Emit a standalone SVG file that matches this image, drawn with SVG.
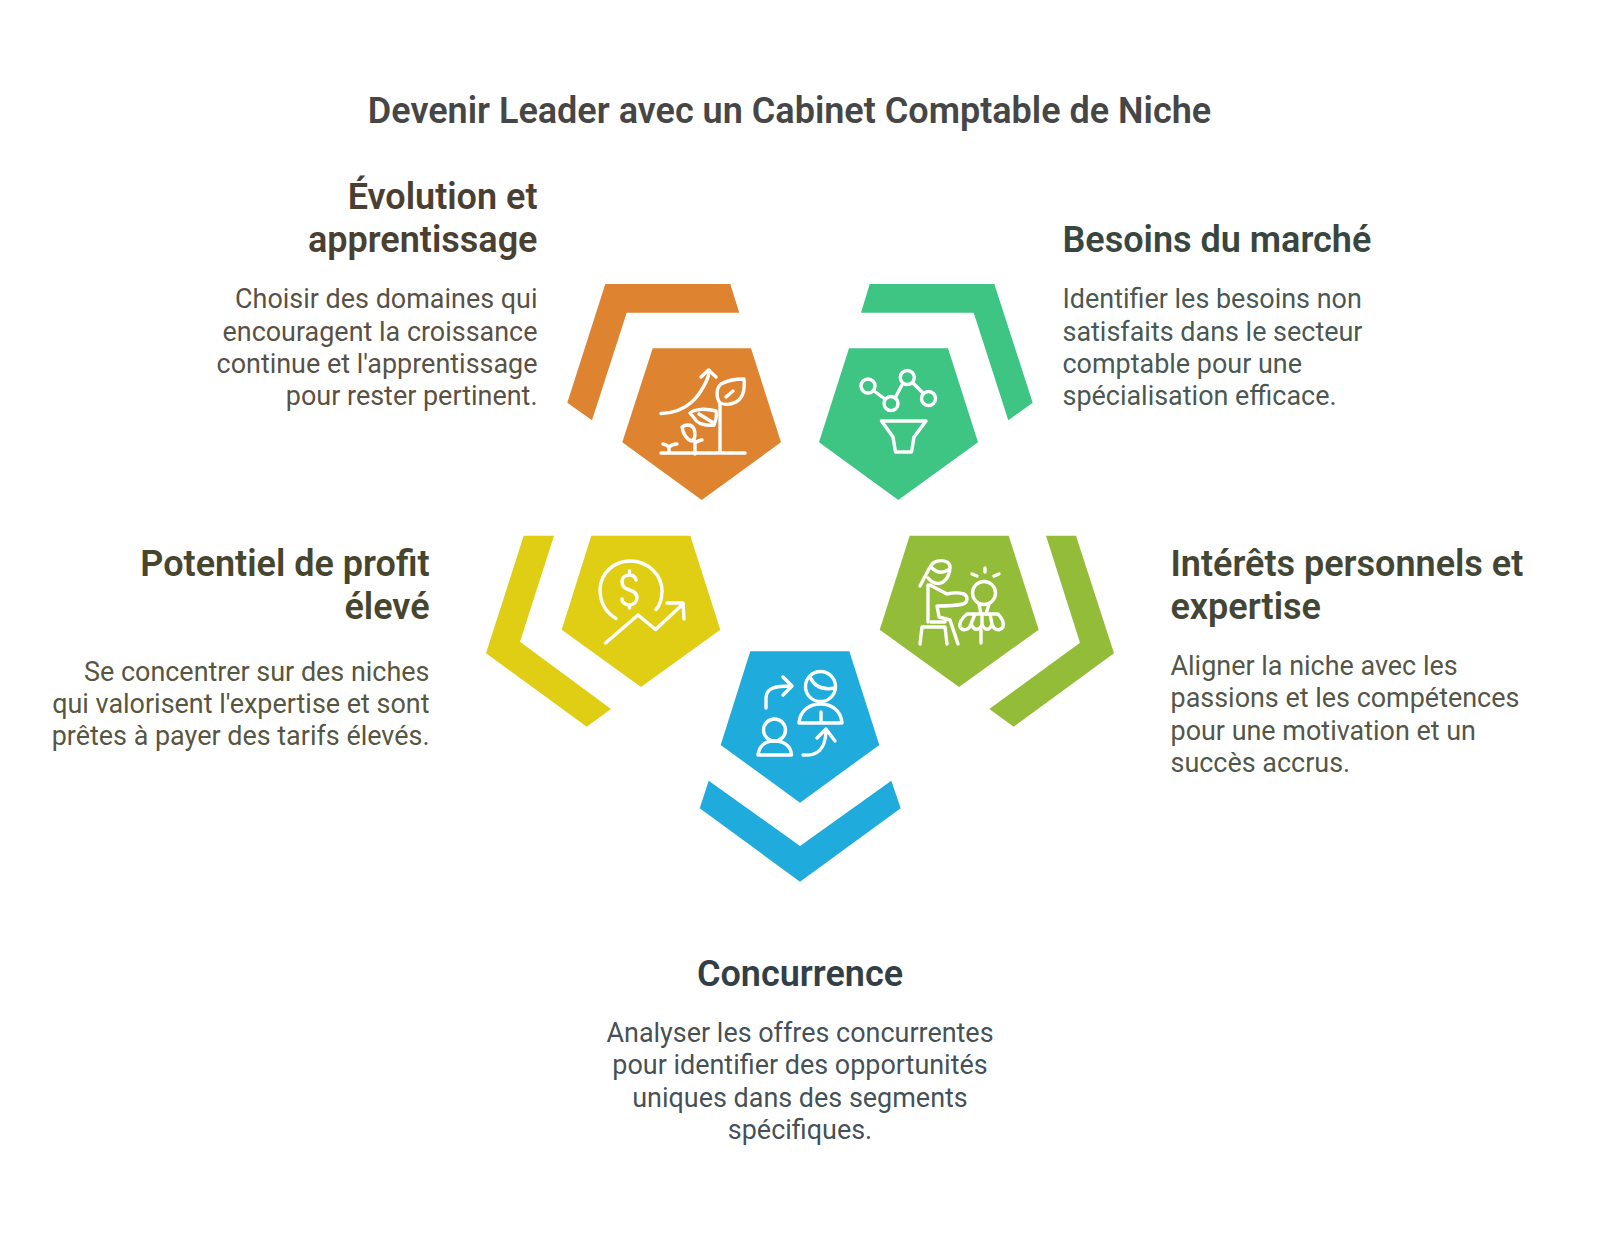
<svg xmlns="http://www.w3.org/2000/svg" width="1600" height="1233" viewBox="0 0 1600 1233">
<style>
text{font-family:Roboto,"Liberation Sans",sans-serif}
.t{font-size:36px;font-weight:600;fill:#464646}
.h{font-size:36px;font-weight:600}
.b{font-size:26.95px;font-weight:400;fill-opacity:.93}
.e{text-anchor:end}.m{text-anchor:middle}
.i{fill:none;stroke:#fff;stroke-width:3.4;stroke-linecap:round;stroke-linejoin:round}
.o{fill:#4a4032}.g{fill:#37473f}.y{fill:#46452e}.l{fill:#434634}.c{fill:#333f46}
</style>
<rect width="1600" height="1233" fill="#fff"/>
<text class="t m" x="789.500" y="122.500">Devenir Leader avec un Cabinet Comptable de Niche</text>
<g id="node-evolution">
<polygon fill="#de8431" points="605.300,284 730.300,284 739.300,312.700 626.700,312.700 592,420.300 567.300,402.700"/>
<polygon fill="#de8431" points="652.700,348.300 751,348.300 781,442.300 701.700,500 622.300,442.300"/>
<g class="i"><path d="M661 413.500C689 413 700 394 706 382C708 378 709 374 709.500 370.500"/><path d="M701 377L708.500 370L716 377"/><path d="M661 453H745"/><path d="M720 452V404"/><path d="M720 403C716 398 716 388 721 384C728 380 739 379 744 379C745 389 743 398 736 402C730 405 725 405 720 403ZM726 397L733 391"/><path d="M690 413C695 409 705 408 716 411C717 415 716 420 714 425C706 426 698 424 695 419ZM699 414L712 422"/><path d="M682 427C686 424 692 424 694 429C696 434 695 439 692 441C687 440 683 434 682 427ZM695 454V441M695 443C698 441 700 440 702 440"/><path d="M669 452V447M669 447C667 445 666 444 663 444M669 447C671 445 674 444 677 444"/></g>
<text class="h e o" x="537.500" y="208.500">Évolution et</text><text class="h e o" x="537.500" y="251.500">apprentissage</text>
<text class="b e o" x="537.500" y="308">Choisir des domaines qui</text><text class="b e o" x="537.500" y="340.500">encouragent la croissance</text><text class="b e o" x="537.500" y="373">continue et l'apprentissage</text><text class="b e o" x="537.500" y="405">pour rester pertinent.</text>
</g>
<g id="node-besoins">
<polygon fill="#3ec583" points="869.700,284 994.300,284 1032.700,402.700 1008.300,420.300 973.700,312.700 861,312.700"/>
<polygon fill="#3ec583" points="849,348.300 948,348.300 978,442.300 898.300,500 819,442.300"/>
<g class="i"><circle cx="868" cy="386" r="7"/><circle cx="891" cy="403.500" r="7"/><circle cx="907.300" cy="377.500" r="7"/><circle cx="928.500" cy="398.500" r="7"/><path d="M874 391L885 399M895 398L902 385M913 383L923 393"/><path d="M881.500 421H926L914 437L911.500 452H895.500L893 437Z"/></g>
<text class="h g" x="1062.500" y="251.500">Besoins du marché</text>
<text class="b g" x="1062.500" y="308">Identifier les besoins non</text><text class="b g" x="1062.500" y="340.500">satisfaits dans le secteur</text><text class="b g" x="1062.500" y="373">comptable pour une</text><text class="b g" x="1062.500" y="405">spécialisation efficace.</text>
</g>
<g id="node-profit">
<polygon fill="#e0ce15" points="523.700,535.700 554,535.700 520,641.700 611,709 586.700,726.700 486,653.300"/>
<polygon fill="#e0ce15" points="591.300,535.700 690.300,535.700 720.300,629.700 641,687 561.700,629.700"/>
<g class="i"><path d="M616 618.500C605 612 600 601 600 589C601 572 615 561 630 561C648 561 662 575 662 591C662 598 660 605 656 609.500"/><path d="M636 580C635 576 632 575 629.500 575C626 575 622 577 622 582C622 587 626 589 629.500 590C633 591 637 593 637 598C637 602 633 605 629.500 605C626 605 622 603 622 599M629.500 574V571M629.500 605V608"/><path d="M605.500 643L638 615L655.500 629.500L683 604"/><path d="M667 603L683 603L684 619"/></g>
<text class="h e y" x="429.500" y="575.500">Potentiel de profit</text><text class="h e y" x="429.500" y="618.500">élevé</text>
<text class="b e y" x="429.500" y="680.500">Se concentrer sur des niches</text><text class="b e y" x="429.500" y="712.500">qui valorisent l'expertise et sont</text><text class="b e y" x="429.500" y="745">prêtes à payer des tarifs élevés.</text>
</g>
<g id="node-interets">
<polygon fill="#93bd38" points="1046,535.700 1076,535.700 1114,653.300 1013.700,726.700 989.300,709 1080,642.700"/>
<polygon fill="#93bd38" points="909.700,535.700 1008.700,535.700 1038.700,629.700 959,687 879.700,629.700"/>
<g class="i"><path d="M920 586L930 567C933 561 941 559 947 562C953 565 949 578 943 582C938 585 932 583 928 578M932 568C937 573 943 573 948 570"/><path d="M928 585V622M930 585L947 594C951 593 957 592 964 594C969 597 967 603 963 604C955 606 946 606 937 606L939 617L950 620L958 644"/><path d="M920 644L922 627H945L947 644M931 622H945"/><circle cx="984" cy="593" r="11.500"/><path d="M979 604L981 614M989 604L986 614"/><path d="M967 614H998C1002 618 1004 623 1003 627C1000 631 994 631 992 624C990 631 984 631 982 624C980 631 974 631 971 624C969 631 962 631 960 627C959 623 962 618 967 614ZM971 624L975 614M982 624V614M992 624L990 614"/><path d="M981 630V643"/><path d="M972 574L977 576M985 568V572M994 576L999 574"/></g>
<text class="h l" x="1170.500" y="575.500">Intérêts personnels et</text><text class="h l" x="1170.500" y="618.500">expertise</text>
<text class="b l" x="1170.500" y="675">Aligner la niche avec les</text><text class="b l" x="1170.500" y="707">passions et les compétences</text><text class="b l" x="1170.500" y="740">pour une motivation et un</text><text class="b l" x="1170.500" y="772">succès accrus.</text>
</g>
<g id="node-concurrence">
<polygon fill="#1fabdb" points="708.700,780.700 800,846 891.300,780.700 900.700,808.300 800,881.700 699.700,808.300"/>
<polygon fill="#1fabdb" points="750.300,651.300 849.300,651.300 879.300,745 800,802.700 720.700,745"/>
<g class="i"><path d="M766 708V698C766 688 775 686 791 686"/><path d="M783 677L792 686L783 695"/><circle cx="820.500" cy="686.500" r="15"/><path d="M810 677C815 688 825 690 835 688M799 723C800 710 810 704 820.500 704C831 704 841 710 842 723ZM821 712V722"/><circle cx="774.500" cy="730" r="11"/><path d="M758 755C759 746 765 741 774.500 741C784 741 791 746 791.500 755ZM803 755C817 756 825 750 826 732"/><path d="M817 738L826 729L835 741"/></g>
<text class="h c m" x="800" y="985.500">Concurrence</text>
<text class="b c m" x="800" y="1042">Analyser les offres concurrentes</text><text class="b c m" x="800" y="1074">pour identifier des opportunités</text><text class="b c m" x="800" y="1107">uniques dans des segments</text><text class="b c m" x="800" y="1139">spécifiques.</text>
</g>
</svg>
